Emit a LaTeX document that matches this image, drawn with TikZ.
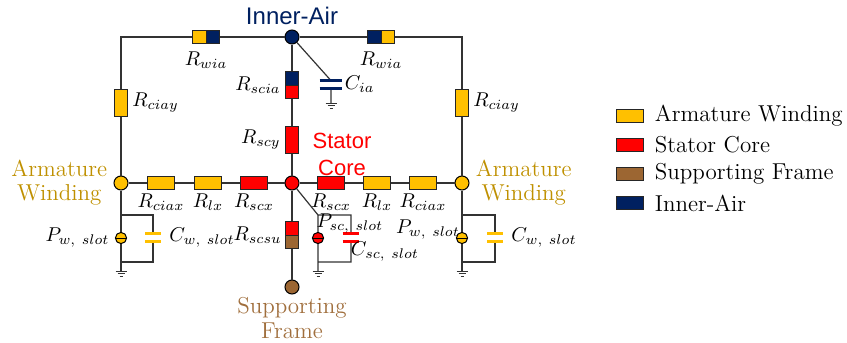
\documentclass[tikz,border=0pt]{standalone}
\usepackage{amsmath}
\usepackage{fontspec}
\newfontfamily\labelsans{Liberation Sans}
\usetikzlibrary{positioning}

\definecolor{wind}{RGB}{255,192,0}
\definecolor{core}{RGB}{255,0,0}
\definecolor{frame}{RGB}{156,102,50}
\definecolor{air}{RGB}{0,32,96}
\definecolor{windtext}{RGB}{191,144,0}
\definecolor{frametext}{RGB}{160,110,60}

\tikzset{
  wire/.style={draw=black!80, line width=0.6pt},
  resh/.style={draw=black!85, line width=0.5pt, fill=#1, minimum width=13.5pt, minimum height=6.2pt, inner sep=0pt},
  resv/.style={resh=#1, minimum width=6.5pt, minimum height=13.5pt},
  reshh/.style 2 args={resh=#1, path picture={
      \fill[#2] (path picture bounding box.north) rectangle (path picture bounding box.south east);
      \draw[black!85, line width=0.5pt] (path picture bounding box.north) -- (path picture bounding box.south);}},
  resvv/.style 2 args={resv=#2, path picture={
      \fill[#1] (path picture bounding box.north west) rectangle (path picture bounding box.east);
      \draw[black!85, line width=0.5pt] (path picture bounding box.west) -- (path picture bounding box.east);}},
  junc/.style={circle, draw=black, line width=0.5pt, fill=#1, minimum size=7pt, inner sep=0pt},
  src/.style={circle, draw=black, line width=0.5pt, fill=#1, minimum size=5.6pt, inner sep=0pt, path picture={
      \draw[black, line width=0.5pt] (path picture bounding box.west) -- (path picture bounding box.east);}},
  capa/.style={inner sep=0pt, minimum width=#1, minimum height=3.5pt},
  plate/.style={line width=1.2pt},
  lbl/.style={font=\fontsize{10}{12}\selectfont, inner sep=1pt},
  word/.style={font=\fontsize{11.5}{12}\selectfont, align=center, inner sep=1pt},
  gnd/.pic={\draw[black!80, line width=0.5pt] (-5.5,0) -- (5.5,0) (-3.5,2.5) -- (3.5,2.5) (-1.5,5) -- (1.5,5);}
}

\begin{document}
\begin{tikzpicture}[x=0.5pt, y=-0.5pt]
    \useasboundingbox (0,0) rectangle (847,343);
    % Junctions
    \node (IA) [junc=air] at (292,37) {};
    \node (SC) [junc=core] at (292,183) {};
    \node (AWL) [junc=wind] at (121,183) {};
    \node (AWR) [junc=wind] at (462,183) {};
    \node (SF) [junc=frame] at (292,287) {};
    % Upper resistances
    \node (RwiaL) [reshh={wind}{air}] at (206,37) {};
    \node (RwiaR) [reshh={air}{wind}] at (381,37) {};
    \node (RciayL) [resv=wind] at (121,103) {};
    \node (RciayR) [resv=wind] at (462,103) {};
    \node (Rscia) [resvv={air}{core}] at (292,85) {};
    \node (Rscy) [resv=core] at (292,140) {};
    \node (Cia) [capa=11pt] at (331,84.5) {};
    \coordinate (TL) at (AWL |- IA);
    \coordinate (TR) at (AWR |- IA);
    \coordinate (gCia) at (331,103);
    % Middle row
    \node (RciaxL) [resh=wind] at (161,183) {};
    \node (RlxL) [resh=wind] at (208,183) {};
    \node (RscxL) [resh=core] at (254,183) {};
    \node (RscxR) [resh=core] at (331,183) {};
    \node (RlxR) [resh=wind] at (377,183) {};
    \node (RciaxR) [resh=wind] at (423,183) {};
    \node (Rscsu) [resvv={core}{frame}] at (292,235) {};
    % Slot branches
    \node (PwL) [src=wind] at (121,238) {};
    \node (CwL) [capa=7.5pt] at (153,237.5) {};
    \node (Psc) [src=core] at (318,238) {};
    \node (Csc) [capa=8pt] at (351,237.5) {};
    \node (PwR) [src=wind] at (462,238) {};
    \node (CwR) [capa=7.5pt] at (495,237.5) {};
    \coordinate (wL1) at (121,215); \coordinate (wL2) at (153,215);
    \coordinate (wL3) at (153,262); \coordinate (wL4) at (121,262);
    \coordinate (wS1) at (318,215); \coordinate (wS2) at (351,215);
    \coordinate (wS3) at (351,262); \coordinate (wS4) at (318,262);
    \coordinate (wR1) at (462,215); \coordinate (wR2) at (495,215);
    \coordinate (wR3) at (495,262); \coordinate (wR4) at (462,262);
    \coordinate (gL) at (121,271);
    \coordinate (gS) at (318,271);
    \coordinate (gR) at (462,271);

    % Wires
    \draw [wire] (AWL) -- (RciayL) -- (TL) -- (RwiaL) -- (IA) -- (RwiaR) -- (TR) -- (RciayR) -- (AWR);
    \draw [wire] (AWL) -- (RciaxL) -- (RlxL) -- (RscxL) -- (SC) -- (RscxR) -- (RlxR) -- (RciaxR) -- (AWR);
    \draw [wire] (IA) -- (Rscia) -- (Rscy) -- (SC) -- (Rscsu) -- (SF);
    \draw [wire] (IA) -- (Cia.north) (Cia.south) -- (gCia);
    \draw [wire] (AWL) -- (PwL) -- (gL) (wL1) -- (wL2) -- (CwL.north) (CwL.south) -- (wL3) -- (wL4);
    \draw [wire] (SC) -- (wS1) -- (Psc) -- (gS) (wS1) -- (wS2) -- (Csc.north) (Csc.south) -- (wS3) -- (wS4);
    \draw [wire] (AWR) -- (PwR) -- (gR) (wR1) -- (wR2) -- (CwR.north) (CwR.south) -- (wR3) -- (wR4);
    % Capacitor plates
    \draw [plate, air] (Cia.north west) -- (Cia.north east) (Cia.south west) -- (Cia.south east);
    \draw [plate, wind] (CwL.north west) -- (CwL.north east) (CwL.south west) -- (CwL.south east);
    \draw [plate, core] (Csc.north west) -- (Csc.north east) (Csc.south west) -- (Csc.south east);
    \draw [plate, wind] (CwR.north west) -- (CwR.north east) (CwR.south west) -- (CwR.south east);
    % Grounds
    \pic at (gCia) {gnd};
    \pic at (gL) {gnd};
    \pic at (gS) {gnd};
    \pic at (gR) {gnd};

    % Resistance labels
    \node (lRwiaL) [lbl, below=3pt of RwiaL] {$R_{wia}$};
    \node (lRwiaR) [lbl, below=3pt of RwiaR] {$R_{wia}$};
    \node (lRciayL) [lbl, right=1pt of RciayL] {$R_{ciay}$};
    \node (lRciayR) [lbl, right=1pt of RciayR] {$R_{ciay}$};
    \node (lRscia) [lbl, left=1pt of Rscia] {$R_{scia}$};
    \node (lRscy) [lbl, left=1pt of Rscy] {$R_{scy}$};
    \node (lCia) [lbl, right=0pt of Cia] {$C_{ia}$};
    \node (lRciaxL) [lbl, below=1pt of RciaxL] {$R_{ciax}$};
    \node (lRlxL) [lbl, below=1pt of RlxL] {$R_{lx}$};
    \node (lRscxL) [lbl, below=1pt of RscxL] {$R_{scx}$};
    \node (lRscxR) [lbl, below=1pt of RscxR] {$R_{scx}$};
    \node (lRlxR) [lbl, below=1pt of RlxR] {$R_{lx}$};
    \node (lRciaxR) [lbl, below=1pt of RciaxR] {$R_{ciax}$};
    \node (lRscsu) [lbl, left=0.5pt of Rscsu] {$R_{scsu}$};
    \node (lPwL) [lbl, left=1.5pt of PwL] {$P_{w,\ slot}$};
    \node (lCwL) [lbl, right=3pt of CwL] {$C_{w,\ slot}$};
    \node (lPsc) [lbl] at (350,224) {$P_{sc,\ slot}$};
    \node (lCsc) [lbl] at (385,252) {$C_{sc,\ slot}$};
    \node (lPwR) [lbl] at (428,230) {$P_{w,\ slot}$};
    \node (lCwR) [lbl, right=3pt of CwR] {$C_{w,\ slot}$};

    % Region labels
    \node (tIA) [above=1pt of IA, text=air, inner sep=1pt, font=\labelsans\fontsize{12}{14}\selectfont] {Inner-Air};
    \node (tSC) [text=core, align=center, inner sep=0pt, font=\labelsans\fontsize{11}{13.5}\selectfont] at (342,154) {Stator\\Core};
    \node (tAWL) [word, text=windtext, left=2pt of AWL] {Armature\\Winding};
    \node (tAWR) [word, text=windtext, right=2pt of AWR] {Armature\\Winding};
    \node (tSF) [word, text=frametext, below=0pt of SF, font=\fontsize{11.5}{12.5}\selectfont] {Supporting\\Frame};

    % Legend
    \foreach \c/\t [count=\i] in {wind/Armature Winding, core/Stator Core, frame/Supporting Frame, air/Inner-Air} {
        \node (key\i) [resh=\c, minimum height=6.5pt] at (629.5, 86.2+29.3*\i) {};
        \node (keyt\i) [word, right=4.5pt of key\i] {\t};
    }
\end{tikzpicture}
\end{document}
